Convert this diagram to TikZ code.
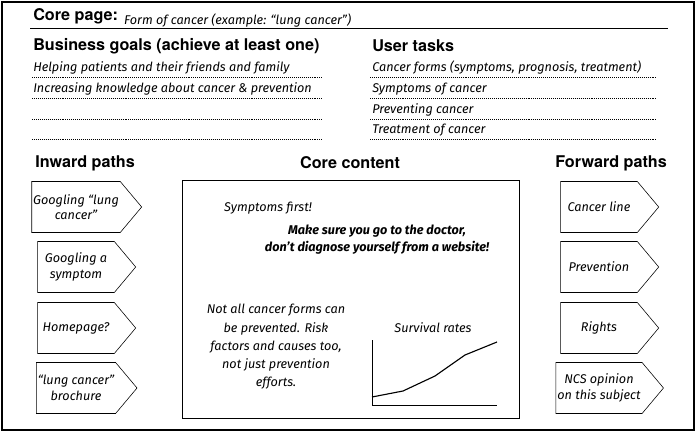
\documentclass[tikz,border=0pt]{standalone}
\usepackage{fontspec}
\setmainfont{Fira Sans}
\newfontfamily\headfont{TeX Gyre Heros}
\usetikzlibrary{shapes.symbols,positioning}

\begin{document}
\begin{tikzpicture}[
    x=0.025cm, y=-0.025cm,
    heading/.style={font=\headfont\bfseries\fontsize{11.5}{13}\selectfont, anchor=west, inner sep=0pt},
    hand/.style={font=\small\itshape, anchor=west, inner sep=0pt},
    dots/.style={densely dotted, thin},
    pathbox/.style={shape=signal, signal to=east, signal pointer angle=100, draw, thin,
        minimum width=2.45cm, minimum height=1.275cm, align=center, font=\small\itshape, inner sep=1pt}
]
\useasboundingbox (0,0) rectangle (696,432);
\draw[thick] (2,2) rectangle (694,430);

% Core page line
\node[font=\headfont\bfseries\fontsize{11.5}{13}\selectfont, anchor=base west, inner sep=0pt] (core) at (33,21) {Core page:};
\node[font=\small\itshape, anchor=base west, right=4pt of core.base east, inner sep=0pt] (corev) {Form of cancer (example: ``lung cancer'')};
\coordinate (cl) at (30,28);
\coordinate (cr) at (668,28);
\draw[thin] (cl) -- (cr);

% Business goals and user tasks
\node[heading] (goals) at (33,46) {Business goals (achieve at least one)};
\node[heading] (tasks) at (372,46) {User tasks};
\foreach \y in {77,98,119,139} {
  \draw[dots] (32,\y) -- (322,\y);
  \draw[dots] (370,\y) -- (657,\y);
}
\node[hand] (g1) at (33,68) {Helping patients and their friends and family};
\node[hand] (g2) at (33,89) {Increasing knowledge about cancer \& prevention};
\node[hand] (t1) at (372,68) {Cancer forms (symptoms, prognosis, treatment)};
\node[hand] (t2) at (372,89) {Symptoms of cancer};
\node[hand] (t3) at (372,110) {Preventing cancer};
\node[hand] (t4) at (372,130) {Treatment of cancer};

% Column headings
\node[heading] (inward) at (35,163) {Inward paths};
\node[heading, anchor=center] (content) at (350,163) {Core content};
\node[heading] (forward) at (555,163) {Forward paths};

% Inward paths
\node[pathbox] (in1) at (76,207) {Googling ``lung\\cancer''};
\node[pathbox] (in2) at (76,267) {Googling a\\symptom};
\node[pathbox] (in3) at (76,328) {Homepage?};
\node[pathbox] (in4) at (76,388) {``lung cancer''\\brochure};

% Forward paths
\node[pathbox] (out1) at (599,207) {Cancer line};
\node[pathbox] (out2) at (599,267) {Prevention};
\node[pathbox] (out3) at (599,328) {Rights};
\node[pathbox] (out4) at (599,388) {NCS opinion\\on this subject};

% Core content box
\node[draw, thin, minimum width=8.425cm, minimum height=5.95cm, inner sep=0pt] (box) at (350.5,299) {};
\node[font=\small\itshape] (symp) at (268,208) {Symptoms first!};
\node[font=\small\itshape\bfseries, align=center] (doctor) at (377,240) {Make sure you go to the doctor,\\[1pt] don't diagnose yourself from a website!};
\node[font=\small\itshape, align=center] (notall) at (276,347) {Not all cancer forms can\\[2pt] be prevented. Risk\\[2pt] factors and causes too,\\[2pt] not just prevention\\[2pt] efforts.};

% Survival chart
\node[font=\small\itshape] (surv) at (433,328) {Survival rates};
\coordinate (ytop) at (372,340);
\coordinate (orig) at (372,405);
\coordinate (xend) at (497,405);
\draw[thin] (ytop) -- (orig) -- (xend);
\draw[thick] (372,397) -- (403,391) -- (435,376) -- (465,355) -- (497,342);
\end{tikzpicture}
\end{document}
